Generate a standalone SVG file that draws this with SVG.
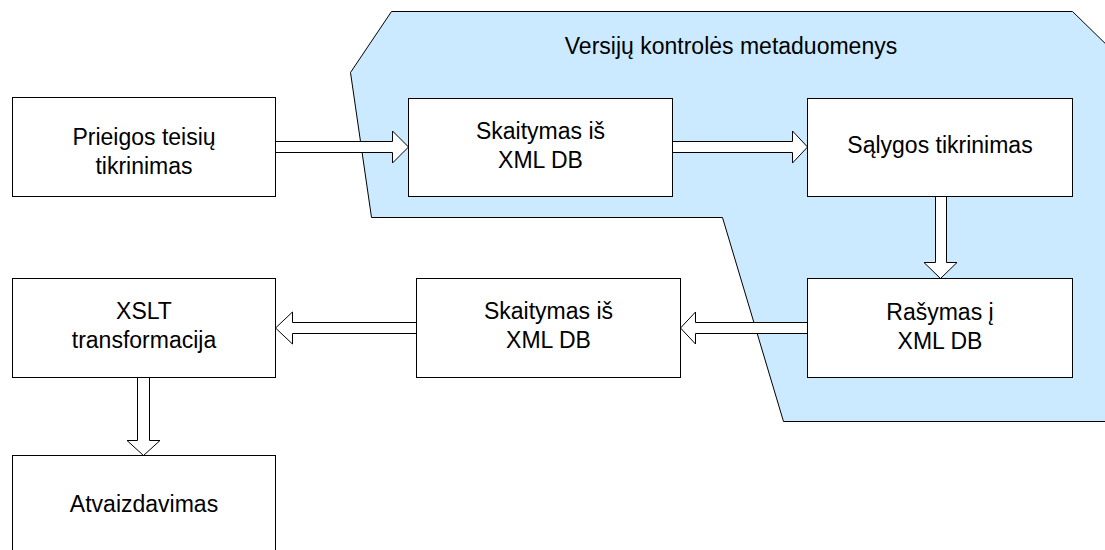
<svg xmlns="http://www.w3.org/2000/svg" width="1105" height="550" viewBox="0 0 1105 550">
  <style>
    .box { fill: #ffffff; stroke: #000000; stroke-width: 1; }
    .area { fill: #cceaff; stroke: #000000; stroke-width: 1; }
    .arrow { fill: #ffffff; stroke: #000000; stroke-width: 1; stroke-linejoin: miter; }
    .label { font-family: "Liberation Sans", Arial, sans-serif; font-size: 23px; fill: #000000; text-anchor: middle; }
  </style>

  <!-- version-control metadata region -->
  <g id="metadata-region">
    <polygon class="area" points="391.5,11.5 1072.5,11.5 1115,53 1115,421.5 783.5,421.5 722.5,217.5 371.5,217.5 350.5,72.5"/>
    <text class="label" x="731" y="54">Versijų kontrolės metaduomenys</text>
  </g>

  <!-- block arrows between steps -->
  <g id="connectors">
    <polygon class="arrow" points="275.5,141.5 392.5,141.5 392.5,131 408.5,147 392.5,163 392.5,152.5 275.5,152.5"/>
    <polygon class="arrow" points="672.5,141.5 792.5,141.5 792.5,131 807.5,147 792.5,163 792.5,152.5 672.5,152.5"/>
    <polygon class="arrow" points="935.5,196.5 935.5,262.5 924,262.5 940.5,278.5 957,262.5 946.5,262.5 946.5,196.5"/>
    <polygon class="arrow" points="807.5,322.5 695.5,322.5 695.5,312 680.5,328 695.5,344 695.5,333.5 807.5,333.5"/>
    <polygon class="arrow" points="416.5,322.5 292.5,322.5 292.5,312 275.5,328 292.5,344 292.5,333.5 416.5,333.5"/>
    <polygon class="arrow" points="137.5,377.5 137.5,440.5 127,440.5 143.5,455.5 160,440.5 149.5,440.5 149.5,377.5"/>
  </g>

  <g id="prieigos-teisiu-tikrinimas">
    <rect class="box" x="12.5" y="97.5" width="263" height="99"/>
    <text class="label" x="144" y="145">Prieigos teisių</text>
    <text class="label" x="144" y="174">tikrinimas</text>
  </g>

  <g id="skaitymas-is-xml-db-1">
    <rect class="box" x="408.5" y="98.5" width="264" height="98"/>
    <text class="label" x="540.5" y="139">Skaitymas iš</text>
    <text class="label" x="540.5" y="168">XML DB</text>
  </g>

  <g id="salygos-tikrinimas">
    <rect class="box" x="807.5" y="98.5" width="265" height="98"/>
    <text class="label" x="940" y="153">Sąlygos tikrinimas</text>
  </g>

  <g id="rasymas-i-xml-db">
    <rect class="box" x="807.5" y="278.5" width="265" height="99"/>
    <text class="label" x="940" y="320">Rašymas į</text>
    <text class="label" x="940" y="349">XML DB</text>
  </g>

  <g id="skaitymas-is-xml-db-2">
    <rect class="box" x="416.5" y="278.5" width="264" height="99"/>
    <text class="label" x="548.5" y="319">Skaitymas iš</text>
    <text class="label" x="548.5" y="348">XML DB</text>
  </g>

  <g id="xslt-transformacija">
    <rect class="box" x="12.5" y="278.5" width="263" height="99"/>
    <text class="label" x="144" y="319">XSLT</text>
    <text class="label" x="144" y="348">transformacija</text>
  </g>

  <g id="atvaizdavimas">
    <rect class="box" x="12.5" y="455.5" width="263" height="100"/>
    <text class="label" x="144" y="512">Atvaizdavimas</text>
  </g>
</svg>
